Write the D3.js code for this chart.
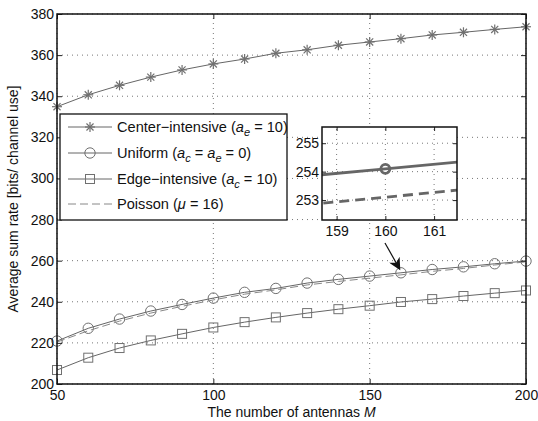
<!DOCTYPE html>
<html>
<head>
<meta charset="utf-8">
<script src="https://cdn.jsdelivr.net/npm/d3@7"></script>
<style>
  body { margin: 0; background: #fff; }
  svg { font-family: "Liberation Sans", Arial, sans-serif; }
</style>
</head>
<body>
<svg id="chart" width="538" height="421"></svg>
<script>
// number of antennas M
var antennas = [50, 60, 70, 80, 90, 100, 110, 120, 130, 140, 150, 160, 170, 180, 190, 200];

// average sum rate of each scenario
var centerRate = [334.9, 340.7, 345.3, 349.3, 352.8, 355.7, 358.1, 360.9, 362.6, 364.8, 366.4, 368.0, 369.8, 371.1, 372.5, 373.8];
var uniformRate = [220.9, 227.1, 231.6, 235.5, 238.7, 241.8, 244.6, 246.5, 249.1, 250.9, 252.5, 254.1, 255.7, 257.0, 258.5, 259.8];
var edgeRate = [206.8, 212.8, 217.5, 221.2, 224.4, 227.5, 230.1, 232.4, 234.5, 236.4, 238.1, 239.9, 241.3, 242.8, 244.2, 245.5];
var poissonRate = [220.4, 225.9, 230.6, 234.5, 237.8, 240.9, 243.7, 245.8, 248.2, 249.9, 251.5, 253.1, 254.8, 256.2, 257.9, 259.4];

var xTicks = [50, 100, 150, 200];
var yTicks = [200, 220, 240, 260, 280, 300, 320, 340, 360, 380];
var insetXTicks = [159, 160, 161];
var insetYTicks = [253, 254, 255];

var legendNames = [
  ["Center\u2212intensive (", "a", "e", " = 10)"],
  ["Uniform (", "a", "c", " = ", "a", "e", " = 0)"],
  ["Edge\u2212intensive (", "a", "c", " = 10)"],
  ["Poisson (", "\u03bc", "", " = 16)"]
];

var svg = d3.select("#chart");
var lineCol = "#666", markCol = "#707070";

var margin = {left: 57, right: 12, top: 14, bottom: 37};
var W = 538, H = 421;

var x = d3.scaleLinear().domain([50, 200]).range([margin.left, W - margin.right]);
var y = d3.scaleLinear().domain([200, 380]).range([H - margin.bottom, margin.top]);

// grade pontilhada
function grid(g, xs, ys, xt, yt) {
  g.selectAll(".gx").data(xt).enter().append("line")
    .attr("x1", d => xs(d)).attr("x2", d => xs(d))
    .attr("y1", ys.range()[0]).attr("y2", ys.range()[1])
    .attr("stroke", "#777").attr("stroke-width", 1).attr("stroke-dasharray", "1,4");
  g.selectAll(".gy").data(yt).enter().append("line")
    .attr("x1", xs.range()[0]).attr("x2", xs.range()[1])
    .attr("y1", d => ys(d)).attr("y2", d => ys(d))
    .attr("stroke", "#777").attr("stroke-width", 1).attr("stroke-dasharray", "1,4");
}

function frame(g, xs, ys, xt, yt, fs, ticklen) {
  var fmt = d3.format("d");
  var bottomAx = d3.axisBottom(xs).tickValues(xt).tickFormat(fmt).tickSize(-ticklen).tickPadding(6);
  var leftAx = d3.axisLeft(ys).tickValues(yt).tickFormat(fmt).tickSize(-ticklen).tickPadding(3);
  var gb = g.append("g").attr("transform", "translate(0," + ys.range()[0] + ")").call(bottomAx);
  var gl = g.append("g").attr("transform", "translate(" + xs.range()[0] + ",0)").call(leftAx);
  var gt = g.append("g").attr("transform", "translate(0," + ys.range()[1] + ")")
    .call(d3.axisTop(xs).tickValues(xt).tickSize(-ticklen).tickFormat(""));
  var gr = g.append("g").attr("transform", "translate(" + xs.range()[1] + ",0)")
    .call(d3.axisRight(ys).tickValues(yt).tickSize(-ticklen).tickFormat(""));
  [gb, gl, gt, gr].forEach(function (a) {
    a.select(".domain").remove();
    a.selectAll("line").attr("stroke", "#222");
    a.selectAll("text").attr("font-size", fs).attr("fill", "#111")
      .attr("font-family", "Liberation Sans, Arial, sans-serif");
  });
  g.append("rect")
    .attr("x", xs.range()[0]).attr("y", ys.range()[1])
    .attr("width", xs.range()[1] - xs.range()[0])
    .attr("height", ys.range()[0] - ys.range()[1])
    .attr("fill", "none").attr("stroke", "#111").attr("stroke-width", 1.5);
}

var main = svg.append("g");
grid(main, x, y, xTicks, yTicks);

var line = d3.line().x((d, i) => x(antennas[i])).y(d => y(d));

var series = [
  {vals: centerRate, mark: "star"},
  {vals: uniformRate, mark: "circle"},
  {vals: edgeRate, mark: "square"},
  {vals: poissonRate, mark: "none"}
];

function drawMarker(g, type, cx, cy, col, sw) {
  if (type === "circle") {
    g.append("circle").attr("cx", cx).attr("cy", cy).attr("r", 5.2)
      .attr("fill", "none").attr("stroke", col).attr("stroke-width", sw);
  } else if (type === "square") {
    g.append("rect").attr("x", cx - 4.5).attr("y", cy - 4.5).attr("width", 9).attr("height", 9)
      .attr("fill", "none").attr("stroke", col).attr("stroke-width", sw);
  } else if (type === "star") {
    var r = 5;
    [0, 45, 90, 135].forEach(function (a) {
      var rad = a * Math.PI / 180;
      g.append("line")
        .attr("x1", cx - r * Math.cos(rad)).attr("y1", cy - r * Math.sin(rad))
        .attr("x2", cx + r * Math.cos(rad)).attr("y2", cy + r * Math.sin(rad))
        .attr("stroke", col).attr("stroke-width", sw + 0.2);
    });
  }
}

series.forEach(function (s) {
  main.append("path").datum(s.vals).attr("d", line)
    .attr("fill", "none").attr("stroke", s.mark === "none" ? "#888" : lineCol)
    .attr("stroke-width", 1)
    .attr("stroke-dasharray", s.mark === "none" ? "8,4" : null);
  if (s.mark !== "none") {
    s.vals.forEach(function (v, i) {
      drawMarker(main, s.mark, x(antennas[i]), y(v), markCol, 1);
    });
  }
});

frame(main, x, y, xTicks, yTicks, "14px", 5);

// Rótulos dos eixos
var xl = svg.append("text").attr("x", (x(50) + x(200)) / 2).attr("y", 417)
  .attr("text-anchor", "middle").attr("font-size", "14px").attr("fill", "#111");
xl.append("tspan").text("The number of antennas ");
xl.append("tspan").attr("font-style", "italic").text("M");

svg.append("text").attr("transform", "translate(18," + (y(290)) + ") rotate(-90)")
  .attr("text-anchor", "middle").attr("font-size", "14px").attr("fill", "#111")
  .text("Average sum rate [bits/ channel use]");

// Arrow to the zoomed point
svg.append("defs").append("marker").attr("id", "head")
  .attr("viewBox", "0 0 10 10").attr("refX", 9).attr("refY", 5)
  .attr("markerUnits", "userSpaceOnUse")
  .attr("markerWidth", 14).attr("markerHeight", 12).attr("orient", "auto")
  .append("path").attr("d", "M0,0 L10,5 L0,10 L3,5 Z").attr("fill", "#111");
svg.append("line")
  .attr("x1", x(154.9)).attr("y1", y(268.6))
  .attr("x2", x(159.6)).attr("y2", y(255.9))
  .attr("stroke", "#111").attr("stroke-width", 1.2).attr("marker-end", "url(#head)");

// Legenda
var lg = svg.append("g");
lg.append("rect").attr("x", 60).attr("y", 114).attr("width", 227).attr("height", 106)
  .attr("fill", "#fff").attr("stroke", "#111").attr("stroke-width", 1.3);
var rowY = [127, 153, 179, 204];
series.forEach(function (s, i) {
  lg.append("line").attr("x1", 68).attr("x2", 112).attr("y1", rowY[i]).attr("y2", rowY[i])
    .attr("stroke", s.mark === "none" ? "#888" : lineCol).attr("stroke-width", 1)
    .attr("stroke-dasharray", s.mark === "none" ? "8,4" : null);
  drawMarker(lg, s.mark, 90, rowY[i], markCol, 1);
  var t = lg.append("text").attr("x", 117).attr("y", rowY[i] + 5)
    .attr("font-size", "14.6px").attr("fill", "#111");
  var parts = legendNames[i];
  t.append("tspan").text(parts[0]);
  for (var k = 1; k < parts.length; k += 3) {
    t.append("tspan").attr("font-style", "italic").text(parts[k]);
    if (parts[k + 1]) {
      t.append("tspan").attr("font-style", "italic").attr("font-size", "11px")
        .attr("dy", 4).text(parts[k + 1]);
      t.append("tspan").attr("dy", -4).text(parts[k + 2]);
    } else {
      t.append("tspan").text(parts[k + 2]);
    }
  }
});

// Zoom inset
var ix = d3.scaleLinear().domain([158.7, 161.47]).range([322, 457]);
var iy = d3.scaleLinear().domain([252.3, 255.57]).range([220, 127]);
var inset = svg.append("g");
inset.append("rect").attr("x", 322).attr("y", 127).attr("width", 135).attr("height", 93)
  .attr("fill", "#fff");
inset.append("clipPath").attr("id", "iclip").append("rect")
  .attr("x", 322).attr("y", 127).attr("width", 135).attr("height", 93);
grid(inset, ix, iy, insetXTicks, insetYTicks);
var iline = d3.line().x((d, i) => ix(antennas[i])).y(d => iy(d));
var ig = inset.append("g").attr("clip-path", "url(#iclip)");
ig.append("path").datum(uniformRate).attr("d", iline)
  .attr("fill", "none").attr("stroke", "#666").attr("stroke-width", 2.8);
ig.append("path").datum(poissonRate).attr("d", iline)
  .attr("fill", "none").attr("stroke", "#666").attr("stroke-width", 2.8)
  .attr("stroke-dasharray", "10,6");
uniformRate.forEach(function (v, i) {
  if (antennas[i] > 158 && antennas[i] < 162) {
    ig.append("circle").attr("cx", ix(antennas[i])).attr("cy", iy(v)).attr("r", 4.5)
      .attr("fill", "none").attr("stroke", "#666").attr("stroke-width", 2.8);
  }
});
frame(inset, ix, iy, insetXTicks, insetYTicks, "14px", 4);
</script>
</body>
</html>
